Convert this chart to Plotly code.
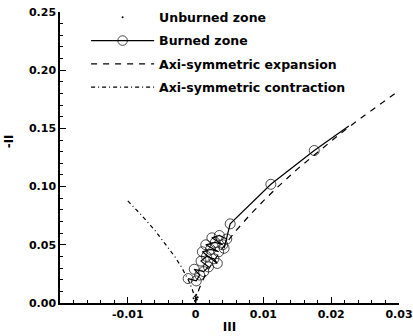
import plotly.graph_objects as go

# Anisotropy invariant map: -II versus III
# Lumley-triangle boundaries (axisymmetric limits)
exp_III = [0.0, 0.0002, 0.0005, 0.001, 0.002, 0.003, 0.004, 0.006, 0.008, 0.010,
           0.012, 0.015, 0.018, 0.021, 0.024, 0.027, 0.030]
exp_II = [0.0, 0.0065, 0.0119, 0.0189, 0.0300, 0.0393, 0.0476, 0.0624, 0.0756, 0.0877,
          0.0991, 0.1150, 0.1298, 0.1439, 0.1573, 0.1701, 0.1825]

con_III = [-0.010, -0.008, -0.006, -0.004, -0.003, -0.002, -0.001, -0.0005, -0.0002, 0.0]
con_II = [0.0877, 0.0756, 0.0624, 0.0476, 0.0393, 0.0300, 0.0189, 0.0119, 0.0065, 0.0]

# Unburned zone: nearly isotropic points near the origin
unb_III = [-0.0003, 0.0, 0.0002, -0.0001, 0.0003, 0.0001]
unb_II = [0.004, 0.006, 0.003, 0.002, 0.005, 0.007]

# Burned zone trajectory
brn_III = [-0.0011, 0.0001, 0.0006, -0.0002, 0.0012, 0.0019, 0.0008, 0.0016, 0.0027,
           0.0032, 0.0010, 0.0022, 0.0034, 0.0015, 0.0029, 0.0040, 0.0024, 0.0035,
           0.0046, 0.0042, 0.0051, 0.0111, 0.0175, 0.0226]
brn_II = [0.021, 0.019, 0.024, 0.029, 0.027, 0.031, 0.036, 0.040, 0.038,
          0.034, 0.044, 0.046, 0.044, 0.050, 0.052, 0.050, 0.056, 0.058,
          0.055, 0.047, 0.068, 0.102, 0.131, 0.152]
brn_marker = [10] * (len(brn_III) - 1) + [0]

x_ticks = [-0.01, 0.0, 0.01, 0.02, 0.03]
x_ticktext = ["-0.01", "0", "0.01", "0.02", "0.03"]

TICK_FONT = dict(family="DejaVu Sans", size=11, color="black", weight="bold")
TEXT_FONT = dict(family="DejaVu Sans", size=12, color="black", weight="bold")
LEGEND_FONT = dict(family="DejaVu Sans", size=12.5, color="black", weight="bold")

fig = go.Figure()
fig.add_trace(go.Scatter(
    x=unb_III, y=unb_II, mode="markers", name="Unburned zone", legendgroup="a",
    marker=dict(size=2, color="black")))
fig.add_trace(go.Scatter(
    x=brn_III, y=brn_II, mode="lines+markers", name="Burned zone", legendgroup="b",
    line=dict(color="black", width=1.2),
    marker=dict(symbol="circle-open", size=brn_marker, color="black", line=dict(width=1))))
fig.add_trace(go.Scatter(
    x=exp_III, y=exp_II, mode="lines", name="Axi-symmetric expansion", legendgroup="c",
    line=dict(color="black", width=1.2, dash="6px,6px")))
fig.add_trace(go.Scatter(
    x=con_III, y=con_II, mode="lines", name="Axi-symmetric contraction", legendgroup="d",
    line=dict(color="black", width=1.2, dash="4px,3px,1px,3px")))

axis_common = dict(
    showline=True, linecolor="black", linewidth=1.5, showgrid=False, zeroline=False,
    ticks="inside", ticklen=6, tickwidth=1.2, tickcolor="black",
    tickfont=TICK_FONT, mirror=False, automargin=False,
)

fig.update_xaxes(
    range=[-0.02, 0.03], tickvals=x_ticks, ticktext=x_ticktext,
    minor=dict(dtick=0.002, tick0=0, ticks="inside", ticklen=3, tickcolor="black", tickwidth=1),
    title=dict(text="III", font=TEXT_FONT, standoff=3), **axis_common)
fig.update_yaxes(
    range=[0, 0.25], dtick=0.05, tick0=0, tickformat=".2f",
    minor=dict(dtick=0.01, tick0=0, ticks="inside", ticklen=3, tickcolor="black", tickwidth=1),
    **axis_common)

# y-axis label placed as rotated text left of the tick labels
fig.add_annotation(
    text="-II", textangle=-90, showarrow=False, font=TEXT_FONT,
    xref="paper", yref="paper", x=-0.148, y=0.555, xanchor="center", yanchor="middle")

fig.update_layout(
    width=413, height=336,
    margin=dict(l=60, r=14, t=12, b=33, autoexpand=False),
    paper_bgcolor="white", plot_bgcolor="white",
    font=TEXT_FONT,
    showlegend=True,
    legend=dict(x=0.077, y=1.032, xanchor="left", yanchor="top",
                bgcolor="rgba(0,0,0,0)", font=LEGEND_FONT, itemwidth=63,
                tracegroupgap=4),
)

fig.write_html("out.html")
